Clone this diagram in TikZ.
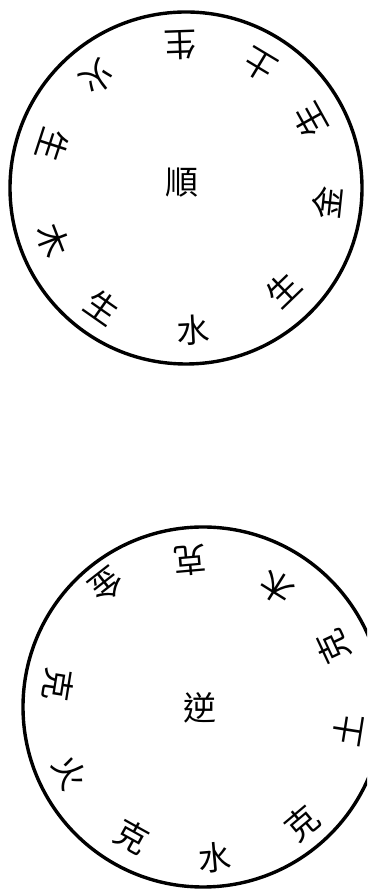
\documentclass[tikz,border=0pt]{standalone}
\usepackage{fontspec}
\newfontfamily\cjk{Noto Sans CJK TC}
\begin{document}
\begin{tikzpicture}[x=1pt,y=1pt,
  ch/.style={font=\cjk\fontsize{33}{33}\selectfont, inner sep=0pt},
  ring/.style={line width=3.4pt}]
\useasboundingbox (0,0) rectangle (367,889);
\clip (0,0) rectangle (367,889);
% top circle (順)
\coordinate (c1) at (186,701);
\draw[ring] (c1) circle (176);
\node[ch] (shun) at (182,706) {順};
\node[ch, rotate=3]    (t1)  at (193,559) {水};
\node[ch, rotate=-35]  (t2)  at (103,582) {生};
\node[ch, rotate=-69]  (t3)  at (53,649)  {木};
\node[ch, rotate=-108] (t4)  at (53,744)  {生};
\node[ch, rotate=-141] (t5)  at (97,812)  {火};
\node[ch, rotate=182]  (t6)  at (180,844) {生};
\node[ch, rotate=149]  (t7)  at (260,824) {土};
\node[ch, rotate=119]  (t8)  at (310,769) {生};
\node[ch, rotate=84]   (t9)  at (327,686) {金};
\node[ch, rotate=44]   (t10) at (283,599) {生};
% bottom circle (逆)
\coordinate (c2) at (203,182);
\draw[ring] (c2) circle (180);
\node[ch] (ni) at (200,181) {逆};
\node[ch, rotate=185]  (b1)  at (190,329) {克};
\node[ch, rotate=148]  (b2)  at (277,302) {木};
\node[ch, rotate=115]  (b3)  at (333,242) {克};
\node[ch, rotate=81]   (b4)  at (348,159) {土};
\node[ch, rotate=40]   (b5)  at (302,66)  {克};
\node[ch, rotate=5]    (b6)  at (215,31)  {水};
\node[ch, rotate=-29]  (b7)  at (132,52)  {克};
\node[ch, rotate=-64]  (b8)  at (70,116)  {火};
\node[ch, rotate=-99]  (b9)  at (58,204)  {克};
\node[ch, rotate=218]  (b10) at (107,304) {金};
\end{tikzpicture}
\end{document}
